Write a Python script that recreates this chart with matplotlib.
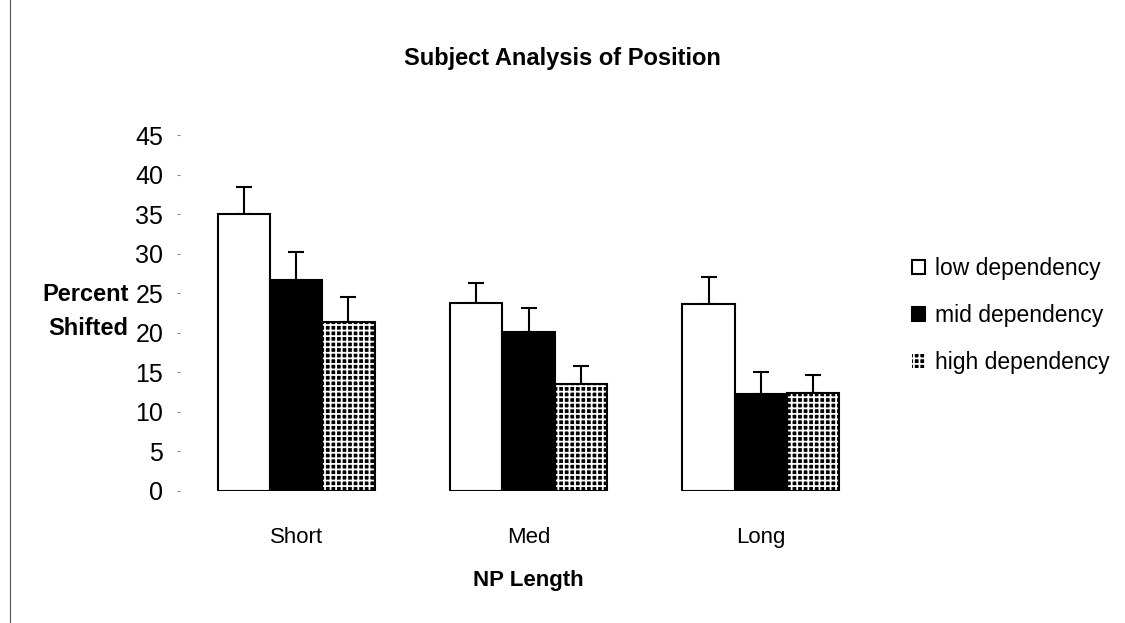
import numpy as np
import matplotlib.pyplot as plt
from matplotlib.lines import Line2D

plt.rcParams['font.family'] = ['Liberation Sans', 'DejaVu Sans']
plt.rcParams['hatch.linewidth'] = 1.3

# data
categories = ["Short", "Med", "Long"]
series = ["low dependency", "mid dependency", "high dependency"]
low = [35.0, 23.8, 23.6]
mid = [26.7, 20.1, 12.3]
high = [21.4, 13.5, 12.4]
low_err = [3.4, 2.5, 3.4]
mid_err = [3.5, 3.0, 2.7]
high_err = [3.1, 2.3, 2.3]
yticks = [0, 5, 10, 15, 20, 25, 30, 35, 40, 45]

fig = plt.figure(figsize=(11.25, 6.23), dpi=100)
ax = fig.add_axes([0.16, 0.2119, 0.6196, 0.5714])

x = np.arange(len(categories))
w = 0.225
vals = [low, mid, high]
errs = [low_err, mid_err, high_err]

# low: white, mid: black
ax.bar(x - w, low, w, facecolor="white", edgecolor="black", linewidth=1.5,
       label=series[0], zorder=2)
ax.bar(x, mid, w, facecolor="black", edgecolor="black", linewidth=1.5,
       label=series[1], zorder=2)
# high: dense dot pattern -> black fill with white grid, then black outline
ax.bar(x + w, high, w, facecolor="black", edgecolor="white", linewidth=0,
       hatch="+++", label=series[2], zorder=2)
ax.bar(x + w, high, w, facecolor="none", edgecolor="black", linewidth=1.5,
       zorder=3)

for i in range(3):
    ax.errorbar(x + (i - 1) * w, vals[i], yerr=[np.zeros(3), errs[i]],
                fmt="none", ecolor="black", elinewidth=1.5, capsize=6,
                capthick=1.5, zorder=1)

ax.set_xlim(-0.5, 2.5)
ax.set_ylim(0, 45)
ax.set_yticks(yticks)
ax.set_xticks(x)
ax.set_xticklabels(categories, fontsize=16)
ax.tick_params(axis="y", length=2, color="#888888", labelsize=18, pad=10)
ax.tick_params(axis="x", length=0, pad=26)
for s in ax.spines.values():
    s.set_visible(False)

ax.set_ylabel("Percent\nShifted", fontsize=17, fontweight="bold", rotation=0,
              ha="right", va="center", linespacing=1.6)
ax.yaxis.set_label_coords(-0.074, 0.505)
ax.set_xlabel("NP Length", fontsize=16, fontweight="bold", labelpad=16)
fig.text(0.5, 0.895, "Subject Analysis of Position", fontsize=17,
         fontweight="bold", ha="center")

ax.legend(loc="upper left", bbox_to_anchor=(1.02, 0.715), frameon=False,
          fontsize=16.5, handlelength=0.6, handleheight=0.6, handletextpad=0.4,
          labelspacing=1.05)

fig.add_artist(Line2D([0.009, 0.009], [0.0, 1.0], color="#555555",
                      linewidth=0.8, transform=fig.transFigure))

fig.savefig("out.png", dpi=100)
